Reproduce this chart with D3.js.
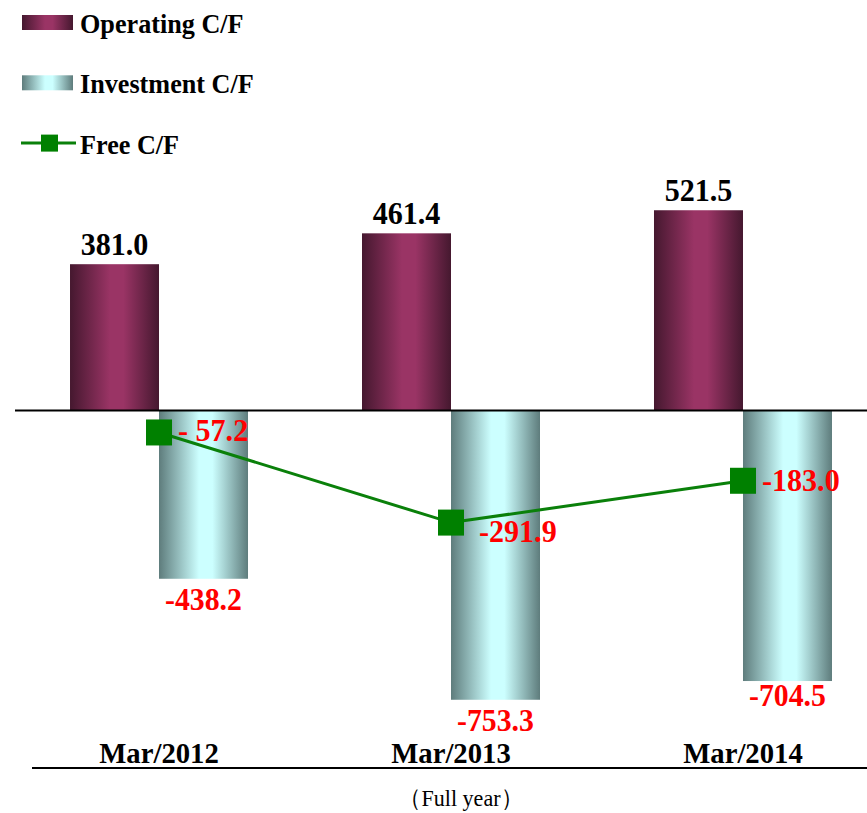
<!DOCTYPE html>
<meta charset="utf-8">
<script src="https://d3js.org/d3.v7.min.js"></script>
<style>
  body { margin: 0; background: #fff; }
  text { font-family: "Liberation Serif", "DejaVu Serif", serif; }
</style>
<div id="chart"></div>
<script>

// data
var years = ["Mar/2012", "Mar/2013", "Mar/2014"];
var operating = [381.0, 461.4, 521.5];
var investment = [-438.2, -753.3, -704.5];
var free = [-57.2, -291.9, -183.0];
var freeLabels = ["- 57.2", "-291.9", "-183.0"];

// label nudges (pixels) so the labels sit where the original put them
var invLabelDy = [31, 31, 25];
var freeLabelDx = [19, 28, 19];
var freeLabelDy = [9, 19, 10];

var width = 867, height = 813;

var fmt = d3.formatLocale({decimal: ".", thousands: ",", grouping: [3], currency: ["", ""], minus: "-"}).format(".1f");

var svg = d3.select("#chart")
  .append("svg")
  .attr("width", width)
  .attr("height", height);

var defs = svg.append("defs");

// cylinder-ish horizontal gradients
function cylGrad(id, edge, mid) {
  var g = defs.append("linearGradient").attr("id", id)
    .attr("x1", "0%").attr("x2", "100%").attr("y1", "0%").attr("y2", "0%");
  g.append("stop").attr("offset", "0%").attr("stop-color", edge);
  g.append("stop").attr("offset", "45%").attr("stop-color", mid);
  g.append("stop").attr("offset", "60%").attr("stop-color", mid);
  g.append("stop").attr("offset", "100%").attr("stop-color", edge);
}
cylGrad("gradOp", "#45182f", "#9a3465");
cylGrad("gradInv", "#5e7c7c", "#ccffff");

// scales
var x = d3.scaleBand()
  .domain(years)
  .range([15, 887])
  .paddingInner(0.3904)
  .paddingOuter(0.1884);

var y = d3.scaleLinear()
  .domain([0, 100])
  .range([410.5, 372.1]);

var bw = x.bandwidth() / 2;

function center(d) { return x(d) + x.bandwidth() / 2; }

// operating bars
svg.selectAll(".op")
  .data(years)
  .enter().append("rect")
  .attr("x", function(d) { return x(d); })
  .attr("width", bw)
  .attr("y", function(d, i) { return y(operating[i]); })
  .attr("height", function(d, i) { return y(0) - y(operating[i]); })
  .style("fill", "url(#gradOp)");

// investment bars
svg.selectAll(".inv")
  .data(years)
  .enter().append("rect")
  .attr("x", function(d) { return x(d) + bw; })
  .attr("width", bw)
  .attr("y", y(0))
  .attr("height", function(d, i) { return y(investment[i]) - y(0); })
  .style("fill", "url(#gradInv)");

// zero line
svg.append("line")
  .attr("x1", 15).attr("x2", width)
  .attr("y1", y(0)).attr("y2", y(0))
  .style("stroke", "#000").style("stroke-width", 2);

// free C/F line
var line = d3.line()
  .x(function(d, i) { return center(years[i]); })
  .y(function(d) { return y(d); });

svg.append("path")
  .datum(free)
  .attr("d", line)
  .style("fill", "none")
  .style("stroke", "#0a800a")
  .style("stroke-width", 3);

svg.selectAll(".mk")
  .data(free)
  .enter().append("rect")
  .attr("x", function(d, i) { return center(years[i]) - 13; })
  .attr("y", function(d) { return y(d) - 13; })
  .attr("width", 26).attr("height", 26)
  .style("fill", "#008000");

// text helper, glyphs squeezed a bit like the original
function label(sel, txt, xx, yy, anchor, color, size, sx, weight) {
  return sel.append("text")
    .attr("transform", "translate(" + xx + "," + yy + ") scale(" + sx + ",1)")
    .attr("text-anchor", anchor)
    .style("font-weight", weight || "bold")
    .style("font-size", size + "px")
    .style("fill", color)
    .text(txt);
}

years.forEach(function(d, i) {
  label(svg, fmt(operating[i]), x(d) + bw / 2, y(operating[i]) - 9, "middle", "#000", 32, 0.94);
  label(svg, fmt(investment[i]), x(d) + bw * 1.5, y(investment[i]) + invLabelDy[i], "middle", "#ff0000", 31, 0.96);
  label(svg, freeLabels[i], center(d) + freeLabelDx[i], y(free[i]) + freeLabelDy[i], "start", "#ff0000", 32, 0.94);
  label(svg, d, center(d), 763, "middle", "#000", 29, 0.99);
});

// bottom axis line
svg.append("line")
  .attr("x1", 32).attr("x2", width)
  .attr("y1", 768).attr("y2", 768)
  .style("stroke", "#000").style("stroke-width", 2);

label(svg, "（Full year）", 461, 806, "middle", "#000", 24, 0.92, "normal");

// legend
var legend = [
  {name: "Operating C/F", type: "op"},
  {name: "Investment C/F", type: "inv"},
  {name: "Free C/F", type: "free"}
];

legend.forEach(function(d, i) {
  var ly = 22.5 + i * 60.3;
  if (d.type === "free") {
    svg.append("line")
      .attr("x1", 21).attr("x2", 76).attr("y1", ly).attr("y2", ly)
      .style("stroke", "#0a800a").style("stroke-width", 3);
    svg.append("rect")
      .attr("x", 41).attr("y", ly - 8.5).attr("width", 17).attr("height", 17)
      .style("fill", "#008000");
  } else {
    svg.append("rect")
      .attr("x", 22).attr("y", ly - 7.5).attr("width", 51).attr("height", 15)
      .style("fill", d.type === "op" ? "url(#gradOp)" : "url(#gradInv)");
  }
  label(svg, d.name, 80, ly + 10.5, "start", "#000", 27, 0.97);
});

</script>
